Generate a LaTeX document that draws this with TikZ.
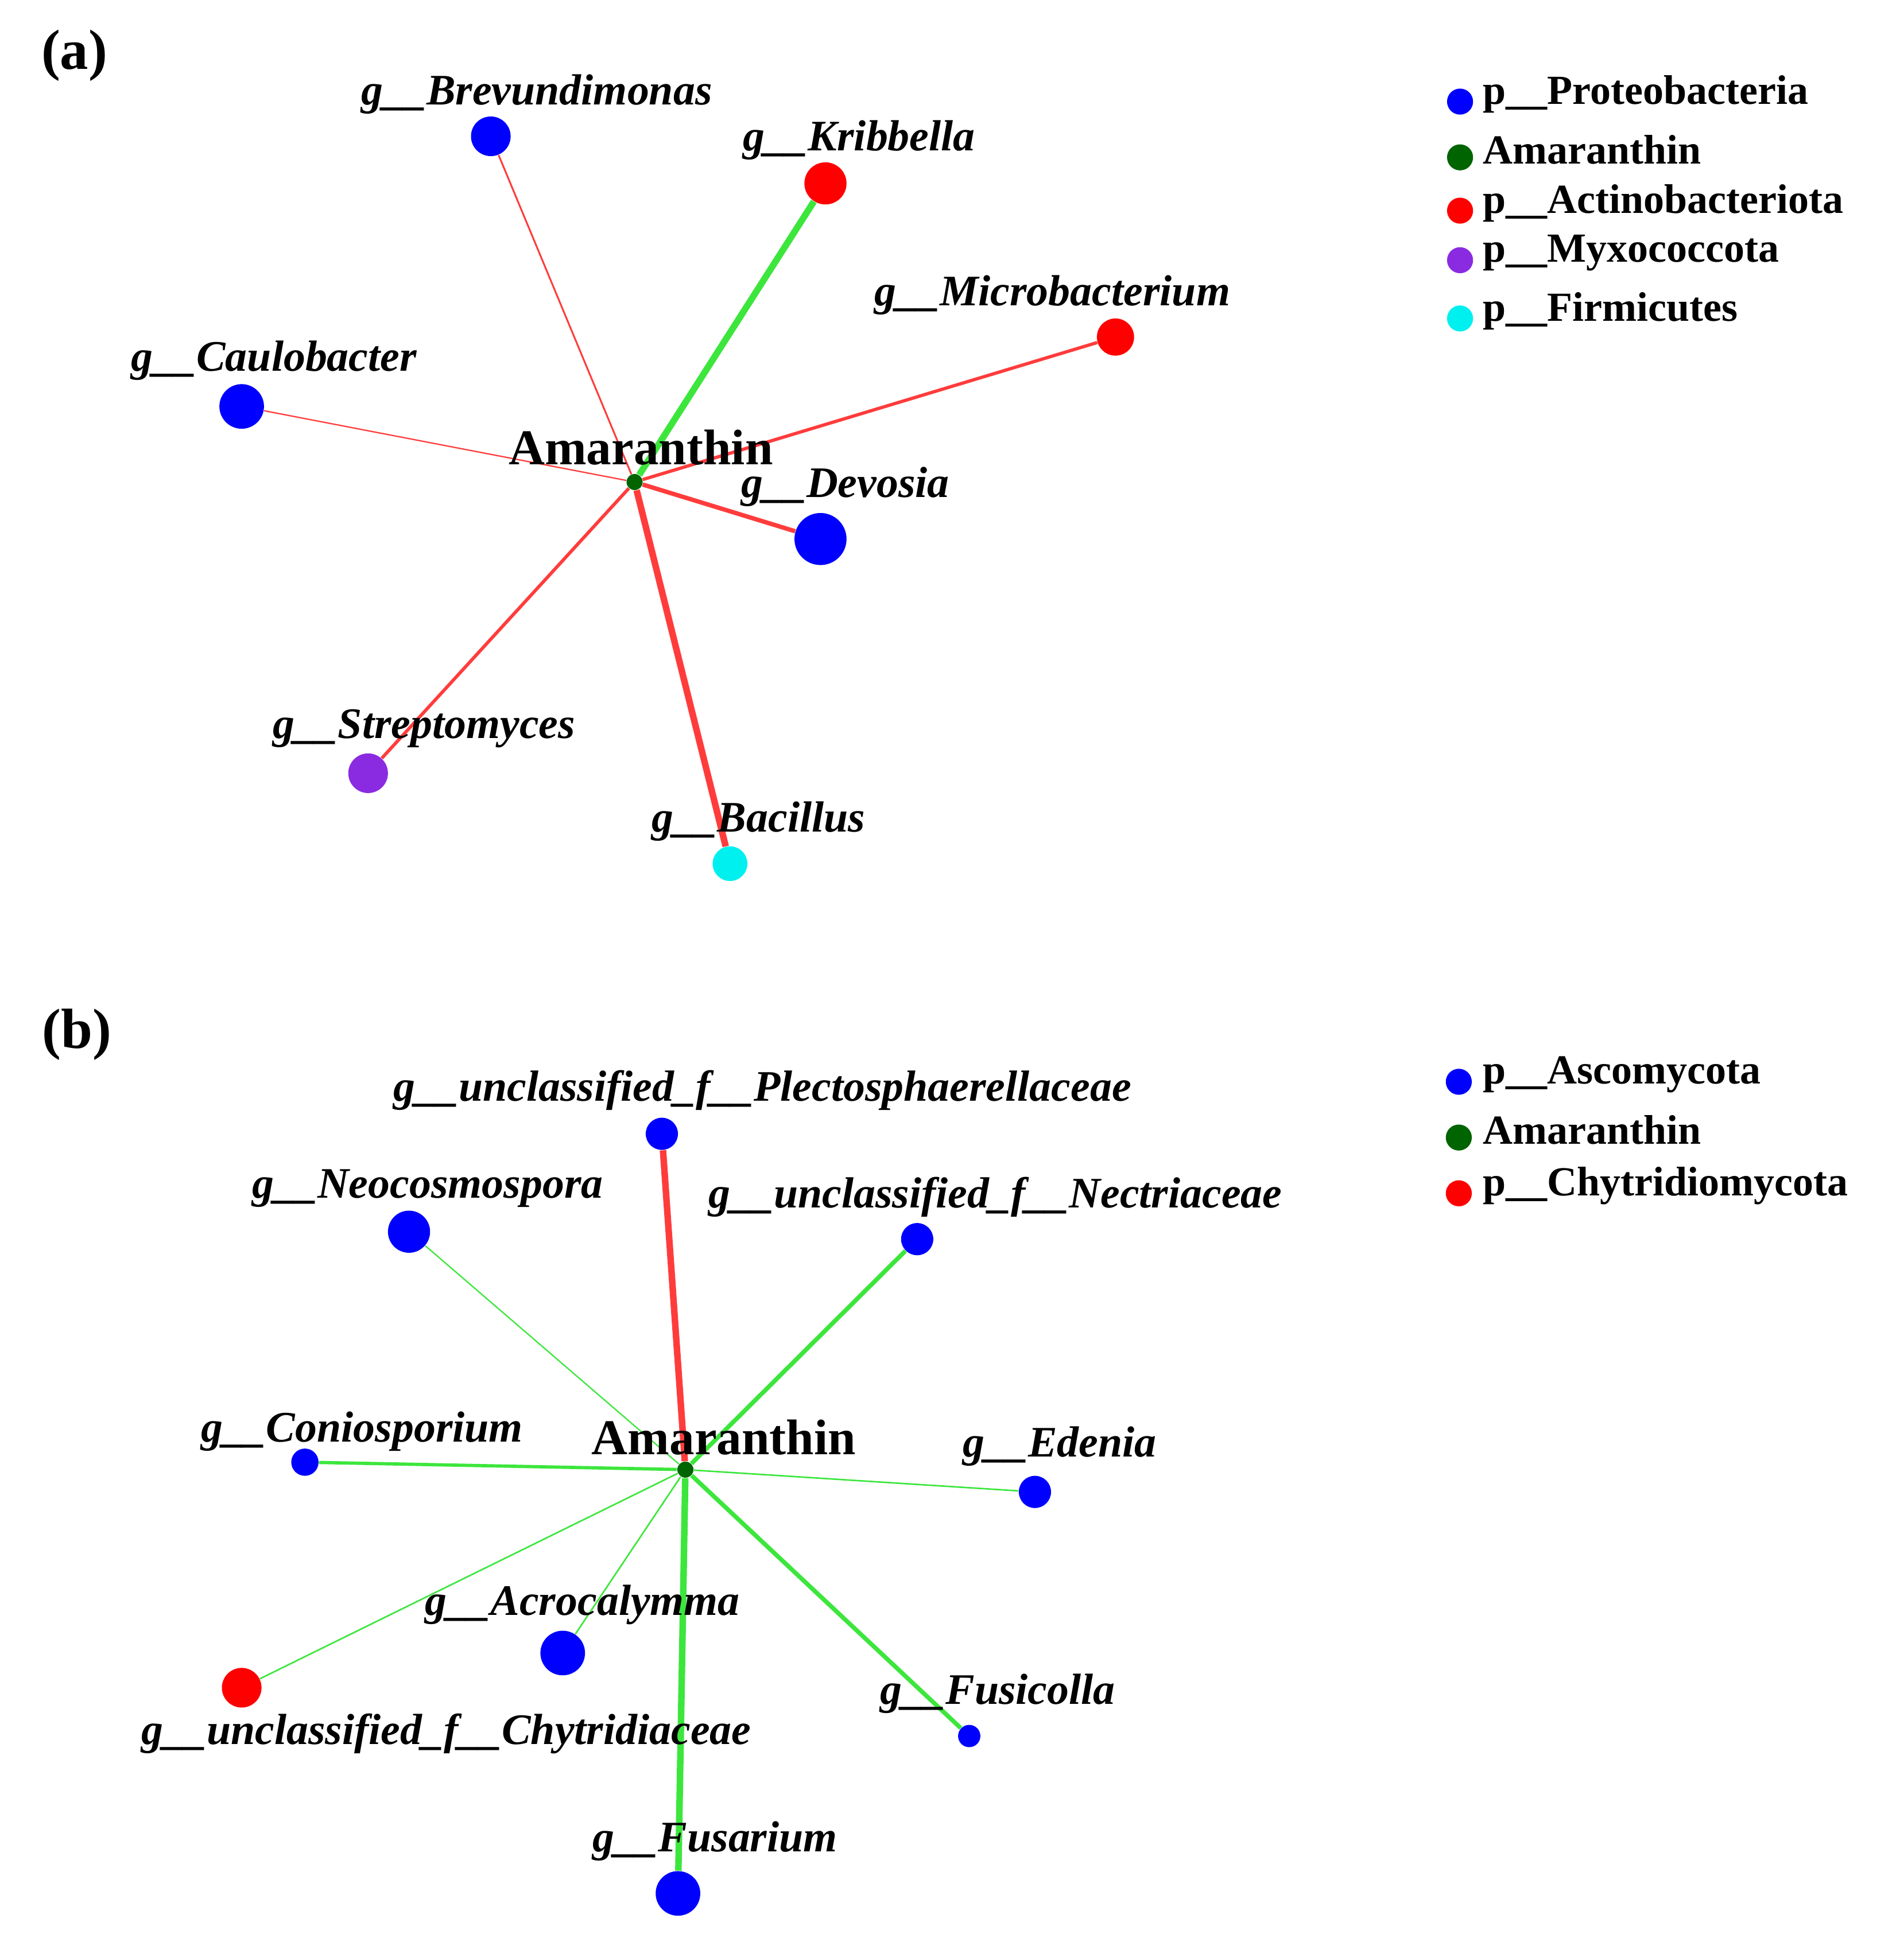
\documentclass[tikz,border=0pt]{standalone}
\usepackage{fontspec}
\setmainfont{Liberation Serif}
\begin{document}
\begin{tikzpicture}[x=0.02cm,y=-0.02cm,
  dot/.style={circle,fill=#1,inner sep=0pt},
  lab/.style={font=\fontsize{20}{22}\selectfont\bfseries\itshape},
  cen/.style={font=\fontsize{23}{25}\selectfont\bfseries},
  leg/.style={font=\fontsize{19}{21}\selectfont\bfseries,anchor=west,inner sep=0pt},
  pan/.style={font=\fontsize{26}{28}\selectfont\bfseries},
  rl/.style={draw={rgb,255:red,255;green,60;blue,60},line width=#1},
  gl/.style={draw={rgb,255:red,60;green,230;blue,60},line width=#1}]
\definecolor{nb}{RGB}{0,0,255}
\definecolor{nr}{RGB}{255,0,0}
\definecolor{ng}{RGB}{0,100,0}
\definecolor{np}{RGB}{138,43,226}
\definecolor{nc}{RGB}{0,240,240}
\useasboundingbox (0,0) rectangle (1536,1564);
% panel a
\node[pan] at (60,45) {(a)};
\node[dot=nb,minimum size=0.64cm] (brev) at (396,110) {};
\node[dot=nr,minimum size=0.68cm] (krib) at (666,148) {};
\node[dot=nr,minimum size=0.60cm] (micro) at (900,272) {};
\node[dot=nb,minimum size=0.72cm] (caulo) at (195,328) {};
\node[dot=nb,minimum size=0.84cm] (devo) at (662,435) {};
\node[dot=np,minimum size=0.64cm] (strep) at (297,624) {};
\node[dot=nc,minimum size=0.56cm] (baci) at (589,697) {};
\node[dot=ng,minimum size=0.26cm] (A) at (512,389) {};
\draw[rl=0.8pt] (A) -- (brev);
\draw[gl=3pt] (A) -- (krib);
\draw[rl=1.5pt] (A) -- (micro);
\draw[rl=0.6pt] (A) -- (caulo);
\draw[rl=2pt] (A) -- (devo);
\draw[rl=1.5pt] (A) -- (strep);
\draw[rl=3pt] (A) -- (baci);
\node[lab] (lbrev) at (433,76) {g\_\_Brevundimonas};
\node[lab] (lkrib) at (693,113) {g\_\_Kribbella};
\node[lab] (lmicro) at (849,238) {g\_\_Microbacterium};
\node[lab] (lcaulo) at (221,291) {g\_\_Caulobacter};
\node[lab] (ldevo) at (682,393) {g\_\_Devosia};
\node[lab] (lstrep) at (342,588) {g\_\_Streptomyces};
\node[lab] (lbaci) at (612,663) {g\_\_Bacillus};
\node[cen] (lA) at (517,361) {Amaranthin};
\foreach \c/\y/\t [count=\i] in {nb/82/p\_\_Proteobacteria,ng/127/Amaranthin,nr/170/p\_\_Actinobacteriota,np/210/p\_\_Myxococcota,nc/257/p\_\_Firmicutes}{
  \node[dot=\c,minimum size=0.42cm] (la\i) at (1178,\y) {};
  \node[leg] (lt\i) at (1196,\y-6) {\t};
}
% panel b
\node[pan] at (62,835) {(b)};
\node[dot=nb,minimum size=0.52cm] (plec) at (534,915) {};
\node[dot=nb,minimum size=0.68cm] (neo) at (330,994) {};
\node[dot=nb,minimum size=0.52cm] (nect) at (740,1000) {};
\node[dot=nb,minimum size=0.44cm] (conio) at (246,1180) {};
\node[dot=nb,minimum size=0.52cm] (eden) at (835,1204) {};
\node[dot=nb,minimum size=0.72cm] (acro) at (454,1334) {};
\node[dot=nr,minimum size=0.64cm] (chyt) at (195,1362) {};
\node[dot=nb,minimum size=0.36cm] (fusc) at (782,1401) {};
\node[dot=nb,minimum size=0.72cm] (fusa) at (547,1528) {};
\node[dot=ng,minimum size=0.26cm] (B) at (553,1186) {};
\draw[rl=3pt] (B) -- (plec);
\draw[gl=0.6pt] (B) -- (neo);
\draw[gl=2pt] (B) -- (nect);
\draw[gl=1.5pt] (B) -- (conio);
\draw[gl=0.7pt] (B) -- (eden);
\draw[gl=0.7pt] (B) -- (acro);
\draw[gl=0.7pt] (B) -- (chyt);
\draw[gl=2pt] (B) -- (fusc);
\draw[gl=3pt] (B) -- (fusa);
\node[lab] (lplec) at (615,880) {g\_\_unclassified\_f\_\_Plectosphaerellaceae};
\node[lab] (lneo) at (345,959) {g\_\_Neocosmospora};
\node[lab] (lnect) at (803,966) {g\_\_unclassified\_f\_\_Nectriaceae};
\node[lab] (lconio) at (292,1155) {g\_\_Coniosporium};
\node[lab] (leden) at (855,1167) {g\_\_Edenia};
\node[lab] (lacro) at (470,1295) {g\_\_Acrocalymma};
\node[lab] (lchyt) at (360,1399) {g\_\_unclassified\_f\_\_Chytridiaceae};
\node[lab] (lfusc) at (805,1367) {g\_\_Fusicolla};
\node[lab] (lfusa) at (577,1486) {g\_\_Fusarium};
\node[cen] (lB) at (584,1160) {Amaranthin};
\foreach \c/\y/\t [count=\i] in {nb/873/p\_\_Ascomycota,ng/918/Amaranthin,nr/963/p\_\_Chytridiomycota}{
  \node[dot=\c,minimum size=0.42cm] (lb\i) at (1177,\y) {};
  \node[leg] (lu\i) at (1196,\y-6) {\t};
}
\end{tikzpicture}
\end{document}
